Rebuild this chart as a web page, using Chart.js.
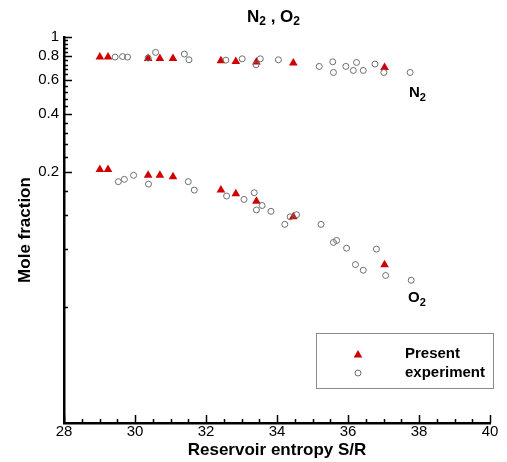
<!DOCTYPE html>
<html>
<head>
<meta charset="utf-8">
<script src="https://cdn.jsdelivr.net/npm/chart.js@4.4.1/dist/chart.umd.min.js"></script>
<style>
  html, body { margin: 0; padding: 0; background: #fff; }
  #wrap { width: 507px; height: 462px; position: relative; }
</style>
</head>
<body>
<div id="wrap"><canvas id="chart"></canvas></div>
<script>
// Present calculation (reservoir entropy S/R)
const presentS = [29.01, 29.24, 30.37, 30.70, 31.07, 32.42, 32.84, 33.42, 34.46, 37.03];
const presentN2 = [0.787, 0.787, 0.774, 0.774, 0.774, 0.753, 0.747, 0.742, 0.733, 0.695];
const presentO2 = [0.206, 0.206, 0.192, 0.192, 0.189, 0.161, 0.154, 0.141, 0.117, 0.066];

// Experiment
const expN2S = [29.44, 29.65, 29.79, 30.37, 30.58, 31.39, 31.52, 32.56, 33.02, 33.41, 33.53,
                34.04, 35.19, 35.57, 35.59, 35.94, 36.15, 36.24, 36.43, 36.76, 37.01, 37.75];
const expN2 = [0.787, 0.792, 0.787, 0.778, 0.832, 0.816, 0.762, 0.759, 0.771, 0.718, 0.771,
               0.762, 0.704, 0.744, 0.655, 0.704, 0.671, 0.738, 0.671, 0.724, 0.655, 0.655];
const expO2S = [29.53, 29.70, 29.96, 30.38, 31.50, 31.67, 32.58, 33.07, 33.36, 33.42, 33.58, 33.83,
                34.22, 34.37, 34.55, 35.24, 35.59, 35.68, 35.96, 36.21, 36.43, 36.80, 37.06, 37.78];
const expO2 = [0.178, 0.183, 0.192, 0.173, 0.178, 0.161, 0.150, 0.144, 0.156, 0.127, 0.134, 0.125,
               0.107, 0.117, 0.120, 0.107, 0.0862, 0.0883, 0.0805, 0.0662, 0.0619, 0.0796, 0.0581, 0.0549];

// Axis tick labels
const xTicks = [28, 30, 32, 34, 36, 38, 40];
const yTicks = [0.2, 0.4, 0.6, 0.8, 1];

const FONT = "'Liberation Sans', Arial, sans-serif";
const RED = '#d00000';
const GREY = '#6e6e6e';

function pts(xs, ys) {
    return xs.map((x, i) => ({ x: x, y: ys[i] }));
}

// draw text with subscript parts: [['N', false], ['2', true]]
function drawSub(ctx, parts, x, y, size) {
    let cx = x;
    parts.forEach(([t, sub]) => {
        ctx.font = `bold ${sub ? Math.round(size * 0.7) : size}px ${FONT}`;
        ctx.fillText(t, cx, sub ? y + size * 0.3 : y);
        cx += ctx.measureText(t).width;
    });
}

// Inside tick marks, title, labels and legend
const decor = {
    id: 'decor',
    afterDraw(chart) {
        const ctx = chart.ctx;
        const xs = chart.scales.x, ys = chart.scales.y;
        const area = chart.chartArea;
        ctx.save();
        ctx.strokeStyle = '#000';
        ctx.lineWidth = 1.5;
        ctx.beginPath();
        for (let v = 28; v <= 40.001; v += 0.5) {
            const px = Math.round(xs.getPixelForValue(v)) + 0.5;
            const len = Math.abs(v % 2) < 0.01 ? 8 : 4;
            ctx.moveTo(px, area.bottom);
            ctx.lineTo(px, area.bottom - len);
        }
        for (let k = 1; k <= 25; k++) {
            const v = k * 0.04;
            const py = Math.round(ys.getPixelForValue(v)) + 0.5;
            const len = k % 5 === 0 ? 8 : 4;
            ctx.moveTo(area.left, py);
            ctx.lineTo(area.left + len, py);
        }
        ctx.stroke();

        // title and curve labels
        ctx.fillStyle = '#000';
        ctx.textBaseline = 'middle';
        ctx.textAlign = 'left';
        drawSub(ctx, [['N', false], ['2', true], [' , O', false], ['2', true]], 247, 17, 17);
        drawSub(ctx, [['N', false], ['2', true]], 409, 93, 15);
        drawSub(ctx, [['O', false], ['2', true]], 408, 298, 15);

        // legend box
        ctx.strokeStyle = '#8a8a8a';
        ctx.lineWidth = 1;
        ctx.strokeRect(316.5, 333.5, 177, 55);
        ctx.fillStyle = RED;
        Chart.helpers.drawPoint(ctx, { pointStyle: 'triangle', radius: 5, borderWidth: 0 }, 358, 355);
        ctx.fillStyle = 'rgba(0,0,0,0)';
        ctx.strokeStyle = GREY;
        ctx.lineWidth = 1;
        Chart.helpers.drawPoint(ctx, { pointStyle: 'circle', radius: 3, borderWidth: 1 }, 358, 373);
        ctx.fillStyle = '#000';
        ctx.font = `bold 15px ${FONT}`;
        ctx.fillText('Present', 405, 354);
        ctx.fillText('experiment', 405, 373);
        ctx.restore();
    }
};

const ctx = document.getElementById('chart').getContext('2d');
new Chart(ctx, {
    type: 'scatter',
    data: {
        datasets: [
            {
                label: 'experiment',
                data: pts(expN2S, expN2).concat(pts(expO2S, expO2)),
                pointStyle: 'circle',
                pointRadius: 3,
                borderWidth: 1,
                borderColor: GREY,
                backgroundColor: 'rgba(0,0,0,0)'
            },
            {
                label: 'Present',
                data: pts(presentS, presentN2).concat(pts(presentS, presentO2)),
                pointStyle: 'triangle',
                pointRadius: 5,
                borderWidth: 0,
                borderColor: RED,
                backgroundColor: RED
            }
        ]
    },
    options: {
        responsive: true,
        maintainAspectRatio: false,
        animation: false,
        layout: { padding: { left: 0, top: 37, right: 17, bottom: 0 } },
        plugins: {
            legend: { display: false },
            tooltip: { enabled: false }
        },
        scales: {
            x: {
                type: 'linear',
                min: 28,
                max: 40,
                afterFit: s => { s.height = 39; },
                afterBuildTicks: s => { s.ticks = xTicks.map(v => ({ value: v })); },
                grid: { display: false, drawTicks: false },
                border: { display: true, color: '#000', width: 2.5 },
                ticks: {
                    color: '#000',
                    padding: 0,
                    maxRotation: 0,
                    font: { family: FONT, size: 15 }
                },
                title: {
                    display: true,
                    text: 'Reservoir entropy S/R',
                    color: '#000',
                    padding: { top: 0, bottom: 1 },
                    font: { family: FONT, size: 17, weight: 'bold' }
                }
            },
            y: {
                type: 'logarithmic',
                min: 0.01,
                max: 1,
                afterFit: s => { s.width = 64; },
                afterBuildTicks: s => { s.ticks = yTicks.map(v => ({ value: v })); },
                grid: { display: false, drawTicks: false },
                border: { display: true, color: '#000', width: 2.5 },
                ticks: {
                    color: '#000',
                    padding: 5,
                    font: { family: FONT, size: 15 },
                    callback: v => String(v)
                },
                title: {
                    display: true,
                    text: 'Mole fraction',
                    color: '#000',
                    padding: { top: 15, bottom: 0 },
                    font: { family: FONT, size: 17, weight: 'bold' }
                }
            }
        }
    },
    plugins: [decor]
});
</script>
</body>
</html>
